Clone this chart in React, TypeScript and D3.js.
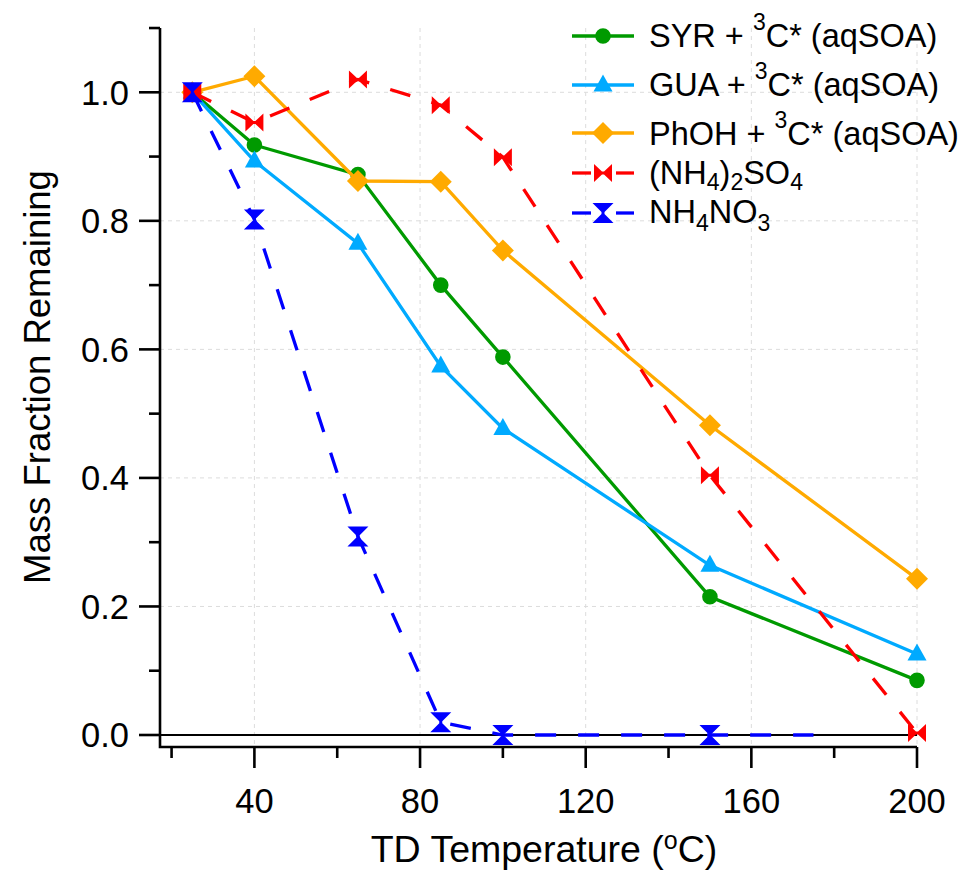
import React from "react";
import * as d3 from "d3";

const temps = [25, 40, 65, 85, 100, 150, 200];
const syr = [1.0, 0.918, 0.872, 0.7, 0.588, 0.215, 0.085];
const gua = [1.0, 0.893, 0.765, 0.574, 0.477, 0.264, 0.126];
const phoh = [1.0, 1.025, 0.862, 0.861, 0.754, 0.482, 0.243];
const amSulf = [1.0, 0.953, 1.02, 0.98, 0.899, 0.404, 0.003];
const amNitTemps = [25, 40, 65, 85, 100, 150, 175];
const amNit = [1.0, 0.802, 0.309, 0.02, 0.0, 0.0, 0.0];
const amNitMarker = [true, true, true, true, true, true, false];

const xTicks = [40, 80, 120, 160, 200];
const xMinor = [20, 60, 100, 140, 180];
const yTicks = [0.0, 0.2, 0.4, 0.6, 0.8, 1.0];
const yMinor = [0.1, 0.3, 0.5, 0.7, 0.9, 1.1];

const FONT = "'Liberation Sans', Arial, Helvetica, sans-serif";

const markerPaths: Record<string, string> = {
  circle: d3.symbol().type(d3.symbolCircle).size(Math.PI * 7.8 * 7.8)() as string,
  triangle: "M0,-10.5L9.5,6.5L-9.5,6.5Z",
  diamond: "M0,-11L11,0L0,11L-11,0Z",
  bowtie: "M-9,-9L-1,-1.5L1,-1.5L9,-9L9,9L1,1.5L-1,1.5L-9,9Z",
  hourglass: "M-10.5,-10L10.5,-10L1.5,-1L1.5,1L10.5,10L-10.5,10L-1.5,1L-1.5,-1Z",
};

type Series = {
  xs: number[];
  ys: number[];
  color: string;
  marker: string;
  dashed: boolean;
  show?: boolean[];
};

const series: Series[] = [
  { xs: temps, ys: syr, color: "#009a00", marker: "circle", dashed: false },
  { xs: temps, ys: gua, color: "#00aaff", marker: "triangle", dashed: false },
  { xs: temps, ys: phoh, color: "#ffaa00", marker: "diamond", dashed: false },
  { xs: temps, ys: amSulf, color: "#ff0000", marker: "bowtie", dashed: true },
  { xs: amNitTemps, ys: amNit, color: "#0000ff", marker: "hourglass", dashed: true, show: amNitMarker },
];

export default function App() {
  const x = d3.scaleLinear().domain([40, 200]).range([254.4, 917]);
  const y = d3.scaleLinear().domain([0, 1]).range([735, 92.3]);
  const left = 160;
  const right = x(200);
  const bottom = 747;
  const top = y(1.1);

  const line = d3
    .line<[number, number]>()
    .x((d) => x(d[0]))
    .y((d) => y(d[1]));

  const legendRows = [
    { y: 36, base: 47, color: "#009a00", marker: "circle", dashed: false, label: "SYR" },
    { y: 85, base: 96, color: "#00aaff", marker: "triangle", dashed: false, label: "GUA" },
    { y: 133, base: 145, color: "#ffaa00", marker: "diamond", dashed: false, label: "PhOH" },
    { y: 173, base: 184, color: "#ff0000", marker: "bowtie", dashed: true, label: "AS" },
    { y: 213, base: 223, color: "#0000ff", marker: "hourglass", dashed: true, label: "AN" },
  ];

  const renderLabel = (label: string) => {
    const sup = { fontSize: 23 } as const;
    if (label === "AS")
      return (
        <>
          (NH<tspan dy={6} style={sup}>4</tspan>
          <tspan dy={-6}>)</tspan>
          <tspan dy={6} style={sup}>2</tspan>
          <tspan dy={-6}>SO</tspan>
          <tspan dy={6} style={sup}>4</tspan>
        </>
      );
    if (label === "AN")
      return (
        <>
          NH<tspan dy={8} style={sup}>4</tspan>
          <tspan dy={-8}>NO</tspan>
          <tspan dy={8} style={sup}>3</tspan>
        </>
      );
    return (
      <>
        {label} + <tspan dy={-17} style={sup}>3</tspan>
        <tspan dy={17}>C* (aqSOA)</tspan>
      </>
    );
  };

  return (
    <svg width={964} height={871} style={{ position: "absolute", left: 0, top: 0, background: "#fff" }} fontFamily={FONT}>
      <rect x={0} y={0} width={964} height={871} fill="#fff" />
      {/* grid */}
      <g stroke="#dcdcdc" strokeWidth={1} strokeDasharray="4,4">
        {xTicks.map((t) => (
          <line key={"gx" + t} x1={x(t)} x2={x(t)} y1={top} y2={bottom} />
        ))}
        {yTicks.filter((t) => t > 0).map((t) => (
          <line key={"gy" + t} x1={left} x2={right} y1={y(t)} y2={y(t)} />
        ))}
      </g>
      {/* zero line */}
      <line x1={left} x2={right} y1={y(0)} y2={y(0)} stroke="#000" strokeWidth={2.2} />
      {/* axes */}
      <g stroke="#000" strokeWidth={2.6} fill="none">
        <path d={`M${left},${top}V${bottom}H${right}`} />
        {yTicks.map((t) => (
          <line key={"yt" + t} x1={left - 21} x2={left} y1={y(t)} y2={y(t)} />
        ))}
        {yMinor.map((t) => (
          <line key={"ym" + t} x1={left - 11} x2={left} y1={y(t)} y2={y(t)} />
        ))}
        {xTicks.map((t) => (
          <line key={"xt" + t} x1={x(t)} x2={x(t)} y1={bottom} y2={bottom + 21} />
        ))}
        {xMinor.map((t) => (
          <line key={"xm" + t} x1={x(t)} x2={x(t)} y1={bottom} y2={bottom + 11} />
        ))}
      </g>
      {/* tick labels */}
      <g fontSize={34.5} fill="#000">
        {yTicks.map((t) => (
          <text key={"yl" + t} x={129} y={y(t)} dy="0.36em" textAnchor="end">
            {t.toFixed(1)}
          </text>
        ))}
        {xTicks.map((t) => (
          <text key={"xl" + t} x={x(t)} y={813} textAnchor="middle">
            {t}
          </text>
        ))}
      </g>
      {/* axis titles */}
      <text x={544} y={862} fontSize={37.5} textAnchor="middle">
        TD Temperature (<tspan dy={-13} fontSize={25}>o</tspan>
        <tspan dy={13}>C)</tspan>
      </text>
      <text transform="translate(50,377) rotate(-90)" fontSize={36.5} textAnchor="middle">
        Mass Fraction Remaining
      </text>
      {/* series */}
      {series.map((s, i) => {
        const pts = s.xs.map((v, j) => [v, s.ys[j]] as [number, number]);
        return (
          <g key={"s" + i}>
            <path
              d={line(pts) as string}
              fill="none"
              stroke={s.color}
              strokeWidth={3.3}
              strokeDasharray={s.dashed ? "21,22" : undefined}
            />
            {pts.map((p, j) =>
              s.show && !s.show[j] ? null : (
                <path key={j} d={markerPaths[s.marker]} transform={`translate(${x(p[0])},${y(p[1])})`} fill={s.color} />
              )
            )}
          </g>
        );
      })}
      {/* legend */}
      <g fontSize={32.5}>
        {legendRows.map((r, i) => (
          <g key={"lg" + i}>
            {r.dashed ? (
              <>
                <line x1={572} x2={591} y1={r.y} y2={r.y} stroke={r.color} strokeWidth={3.3} />
                <line x1={616} x2={634} y1={r.y} y2={r.y} stroke={r.color} strokeWidth={3.3} />
              </>
            ) : (
              <line x1={572} x2={634} y1={r.y} y2={r.y} stroke={r.color} strokeWidth={3.3} />
            )}
            <path d={markerPaths[r.marker]} transform={`translate(603,${r.y})`} fill={r.color} />
            <text x={649} y={r.base} fill="#000">
              {renderLabel(r.label)}
            </text>
          </g>
        ))}
      </g>
    </svg>
  );
}
